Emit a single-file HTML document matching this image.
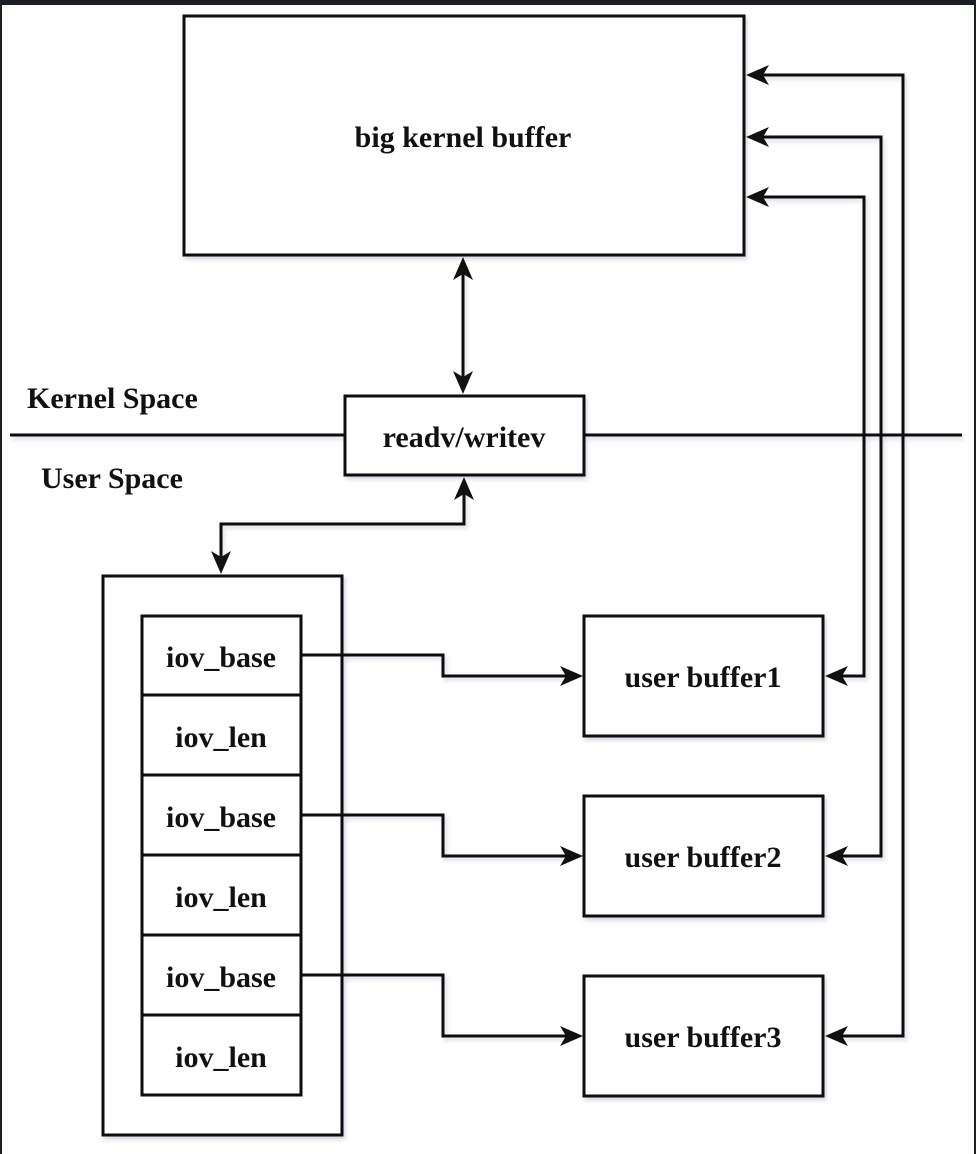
<!DOCTYPE html>
<html><head><meta charset="utf-8"><style>
html,body{margin:0;padding:0;background:#fff;}
svg{display:block;}
text{font-family:"Liberation Serif",serif;font-weight:bold;font-size:30px;fill:#111;}
</style></head><body>
<svg width="976" height="1154" viewBox="0 0 976 1154" xmlns="http://www.w3.org/2000/svg">
<defs>
<filter id="s" x="-5%" y="-5%" width="110%" height="110%"><feDropShadow dx="2" dy="3" stdDeviation="2" flood-color="#8890b0" flood-opacity="0.35"/></filter>
</defs>
<rect x="0" y="0" width="976" height="1154" fill="#fff"/>
<rect x="0" y="0" width="976" height="5" fill="#1c1e26"/>
<rect x="0" y="0" width="2" height="1154" fill="#1c1e26"/>
<rect x="974" y="0" width="2" height="1154" fill="#1c1e26"/>
<g filter="url(#s)" stroke="#111" stroke-width="3" fill="none">
<line x1="10" y1="435" x2="344" y2="435"/>
<line x1="584" y1="435" x2="962" y2="435"/>
<rect x="184" y="16" width="560" height="239" fill="#fff"/>
<rect x="345" y="396" width="239" height="79" fill="#fff"/>
<line x1="463" y1="270" x2="463" y2="382"/>
<polyline points="464,490 464,524 221,524 221,560"/>
<rect x="103" y="576" width="239" height="559" fill="#fff"/>
<rect x="142" y="616" width="159" height="479" fill="#fff"/>
<line x1="142" y1="695" x2="301" y2="695"/>
<line x1="142" y1="775" x2="301" y2="775"/>
<line x1="142" y1="855" x2="301" y2="855"/>
<line x1="142" y1="935" x2="301" y2="935"/>
<line x1="142" y1="1015" x2="301" y2="1015"/>
<rect x="584" y="616" width="239" height="120" fill="#fff"/>
<rect x="584" y="796" width="239" height="120" fill="#fff"/>
<rect x="584" y="976" width="239" height="120" fill="#fff"/>
<polyline points="301,655 443,655 443,676 570,676"/>
<polyline points="301,815 443,815 443,856 570,856"/>
<polyline points="301,975 443,975 443,1036 570,1036"/>
<polyline points="838,676 864,676 864,197 760,197"/>
<polyline points="838,856 881,856 881,137 760,137"/>
<polyline points="838,1036 903,1036 903,75 760,75"/>
</g>
<g fill="#111">
<polygon points="463,257 453,280 463,274 473,280"/>
<polygon points="463,394 453,371 463,377 473,371"/>
<polygon points="464,477 454,500 464,494 474,500"/>
<polygon points="221,574 211,551 221,557 231,551"/>
<polygon points="583,676 560,666 566,676 560,686"/>
<polygon points="583,856 560,846 566,856 560,866"/>
<polygon points="583,1036 560,1026 566,1036 560,1046"/>
<polygon points="825,676 848,666 842,676 848,686"/>
<polygon points="825,856 848,846 842,856 848,866"/>
<polygon points="825,1036 848,1026 842,1036 848,1046"/>
<polygon points="746,75 769,65 763,75 769,85"/>
<polygon points="746,137 769,127 763,137 769,147"/>
<polygon points="746,197 769,187 763,197 769,207"/>
</g>
<g text-anchor="middle">
<text x="463" y="147">big kernel buffer</text>
<text x="464" y="447">readv/writev</text>
<text x="221" y="667">iov_base</text>
<text x="221" y="747">iov_len</text>
<text x="221" y="827">iov_base</text>
<text x="221" y="907">iov_len</text>
<text x="221" y="987">iov_base</text>
<text x="221" y="1067">iov_len</text>
<text x="703" y="687">user buffer1</text>
<text x="703" y="867">user buffer2</text>
<text x="703" y="1047">user buffer3</text>
</g>
<text x="27" y="408" font-size="30">Kernel Space</text>
<text x="41" y="488" font-size="30">User Space</text>
</svg>
</body></html>
